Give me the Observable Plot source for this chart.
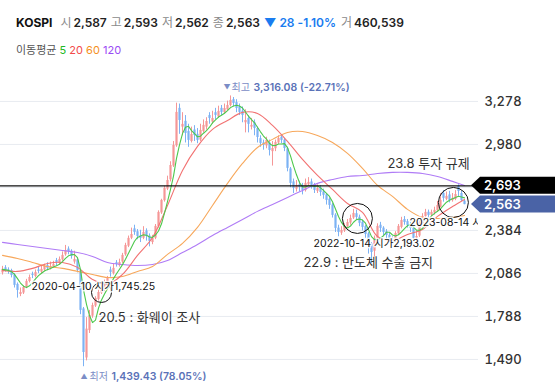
<!DOCTYPE html>
<html>
<head>
<meta charset="utf-8">
<script src="https://cdn.jsdelivr.net/npm/d3@7"></script>
<script src="https://cdn.jsdelivr.net/npm/@observablehq/plot@0.6"></script>
<style>
  html, body { margin: 0; padding: 0; background: #fff; }
  body { width: 555px; height: 389px; overflow: hidden; font-family: Inter, "Noto Sans CJK KR", sans-serif; }
  .hdr { position: relative; height: 62px; }
  .l1 { position: absolute; left: 16px; top: 15px; font-size: 12px; line-height: 16px; white-space: nowrap; color: #222; }
  .l1 .nm { font-weight: 700; margin-right: 8px; color: #111; }
  .l1 .k { color: #8a8a8a; margin-right: 2px; }
  .l1 b { font-weight: 600; margin-right: 4px; }
  .l1 .dn { color: #1a7cf0; font-weight: 600; margin-right: 5px; }
  .l2 { position: absolute; left: 16px; top: 42px; font-size: 11px; line-height: 16px; color: #555; white-space: nowrap; }
  #chart svg { display: block; }
</style>
</head>
<body>
<div class="hdr">
  <div class="l1" id="l1"></div>
  <div class="l2" id="l2"></div>
</div>
<div id="chart"></div>
<script>
// ---- weekly candles ----
const opens = [2090,2125,2110,2105,2075,2010,1940,1950,1990,2030,
2080,2065,2110,2095,2110,2140,2118,2130,2175,2155,
2180,2215,2255,2240,2165,2180,2105,1840,1500,1690,
1790,1860,1905,1950,1975,2000,2110,2085,2160,2140,
2165,2215,2275,2330,2395,2375,2345,2330,2380,2345,
2300,2330,2410,2505,2590,2670,2735,2830,2970,3230,
3100,3140,3070,3000,3080,3050,3010,3070,3100,3180,
3135,3200,3170,3230,3200,3220,3250,3290,3270,3240,
3210,3130,3160,3100,3130,3090,3020,2990,2970,2990,
2930,2950,2990,3030,3010,2950,2810,2720,2670,2700,
2690,2660,2700,2720,2700,2655,2680,2650,2630,2600,
2560,2490,2400,2365,2380,2410,2435,2470,2500,2475,
2440,2410,2360,2290,2240,2330,2420,2400,2375,2350,
2320,2310,2360,2405,2460,2445,2420,2400,2330,2345,
2430,2480,2510,2490,2505,2520,2545,2640,2600,2630,
2590,2600,2690,2640,2587];
const highs = [2135,2140,2125,2115,2085,2020,1985,2000,2045,2075,
2095,2110,2130,2140,2150,2160,2165,2170,2190,2200,
2235,2280,2270,2250,2240,2190,2110,1850,1780,1830,
1880,1925,1970,2000,2040,2065,2130,2150,2175,2185,
2225,2295,2345,2400,2420,2390,2385,2410,2395,2360,
2350,2425,2520,2600,2690,2760,2860,3000,3266,3260,
3200,3180,3120,3100,3110,3090,3120,3150,3165,3200,
3210,3230,3245,3250,3260,3280,3316.08,3305,3290,3260,
3240,3220,3180,3160,3150,3100,3040,3010,3030,3010,
3000,3010,3040,3045,3020,2960,2820,2740,2730,2725,
2710,2740,2750,2740,2710,2700,2695,2670,2640,2610,
2570,2500,2420,2410,2430,2460,2490,2530,2525,2490,
2455,2420,2370,2300,2345,2430,2440,2410,2390,2365,
2340,2375,2425,2475,2480,2460,2440,2410,2380,2450,
2500,2530,2525,2525,2545,2585,2640,2660,2650,2655,
2640,2660,2700,2655,2593];
const lows = [2075,2095,2080,2055,1985,1915,1925,1940,1980,2020,
2050,2055,2085,2085,2100,2105,2110,2120,2140,2145,
2170,2205,2215,2185,2150,2090,1800,1439.43,1480,1670,
1775,1850,1895,1940,1960,1990,2060,2075,2130,2130,
2155,2205,2265,2320,2350,2320,2300,2320,2310,2270,
2285,2320,2400,2495,2580,2660,2720,2820,2960,3050,
3040,2990,2960,2990,3000,2985,3000,3060,3080,3120,
3120,3150,3160,3180,3190,3210,3240,3240,3200,3180,
3130,3060,3060,3080,3040,2990,2960,2940,2950,2900,
2830,2930,2980,2985,2930,2790,2680,2640,2650,2650,
2630,2650,2690,2670,2640,2640,2620,2600,2560,2530,
2470,2370,2340,2350,2370,2400,2420,2460,2455,2410,
2380,2330,2220,2155,2200,2320,2370,2340,2320,2300,
2290,2300,2350,2395,2420,2400,2370,2310,2300,2335,
2420,2470,2470,2475,2490,2510,2540,2580,2590,2575,
2580,2590,2620,2585,2562];
const closes = [2114,2107,2100,2072,2003,1968,1954,1989,2031,2058,
2072,2093,2100,2114,2134,2121,2134,2148,2162,2183,
2211,2245,2238,2204,2183,2107,1830,1538,1700,1795,
1864,1913,1954,1982,2003,2051,2093,2121,2148,2162,
2211,2280,2329,2356,2370,2342,2329,2370,2342,2308,
2329,2412,2509,2592,2675,2730,2834,2973,3202,3146,
3119,3056,3008,3049,3042,3008,3077,3112,3139,3160,
3160,3181,3209,3202,3229,3250,3285,3264,3229,3202,
3181,3146,3119,3112,3091,3028,2987,2973,3008,2938,
2952,2994,3021,3008,2952,2814,2710,2675,2696,2682,
2661,2710,2717,2696,2661,2675,2647,2627,2592,2557,
2488,2398,2370,2384,2412,2439,2467,2502,2474,2433,
2405,2356,2280,2231,2329,2412,2398,2370,2349,2329,
2315,2363,2412,2453,2439,2419,2398,2329,2342,2439,
2481,2509,2488,2509,2523,2557,2592,2606,2620,2592,
2606,2633,2654,2591,2563];

// ---- moving averages 20 / 60 / 120 (at candle indices) ----
const maIdx = [0,5,10,15,20,25,30,35,40,45,50,55,60,65,70,75,80,85,90,95,100,105,110,115,120,125,130,135,140,145,150,154];
const ma20 = [2107,2100,2121,2155,2162,2128,2044,2010,2079,2211,2335,2557,2800,2966,3084,3146,3202,3195,3112,3001,2876,2765,2668,2571,2509,2342,2315,2356,2391,2481,2550,2599];
const ma60 = [2211,2190,2162,2134,2121,2100,2079,2058,2065,2100,2134,2218,2294,2405,2557,2710,2848,2959,3015,3063,3070,3042,2994,2918,2814,2696,2620,2530,2474,2467,2474,2488];
const ma120 = [2301,2287,2273,2259,2245,2231,2204,2162,2148,2141,2148,2176,2231,2287,2349,2405,2460,2516,2564,2613,2661,2710,2737,2758,2765,2779,2786,2786,2779,2758,2724,2696];

// ---- axis ticks & reference levels ----
const gridTicks = [1490,1788,2086,2384,2682,2980,3278];
const labelTicks = [1490,1788,2086,2384,2980,3278]; // 2,682 sits under the 2,693 tag
const refLine = 2693;
const lastPrice = 2563;

// ---- annotations ----
const noteText = ["2020-04-10 시가1,745.25","2022-10-14 시가2,193.02","2023-08-14 시가2,570.87"];
const noteX = [9.7,103.7,135.7];
const noteY = [1996,2294,2439];
const eventText = ["20.5 : 화웨이 조사","22.9 : 반도체 수출 금지","23.8 투자 규제"];
const eventX = [32,100.3,128.3];
const eventY = [1781,2162,2848];
const circleX = [33,118.3,150.3];
const circleY = [1954,2467,2578];
const circleR = [10,15,15];
const hiIdx = 76, hiVal = 3316.08, hiLabel = "최고", hiText = "3,316.08 (-22.71%)";
const loIdx = 27, loVal = 1439.43, loLabel = "최저", loText = "1,439.43 (78.05%)";

// header
const n = closes.length - 1;
const fmt = d3.format(",");
document.getElementById("l1").innerHTML =
  `<span class="nm">KOSPI</span><span class="k">시</span><b>${fmt(opens[n])}</b><span class="k">고</span><b>${fmt(highs[n])}</b><span class="k">저</span><b>${fmt(lows[n])}</b><span class="k">종</span><b>${fmt(closes[n])}</b><span class="dn">▼ 28 -1.10%</span><span class="k">거</span><b>460,539</b>`;
document.getElementById("l2").innerHTML =
  `이동평균 <span style="color:#22b822">5</span> <span style="color:#f24a4a">20</span> <span style="color:#f5901e">60</span> <span style="color:#9a4cf5">120</span>`;

const candles = closes.map((c, i) => ({i, o: opens[i], h: highs[i], l: lows[i], c, up: c >= opens[i]}));
const pink = "#f59797", blue = "#7cb2f4";
const col = d => d.up ? pink : blue;
const maData = arr => maIdx.map((i, k) => ({i, v: arr[k]}));
const notes = noteText.map((t, k) => ({t, x: noteX[k], y: noteY[k]}));
const events = eventText.map((t, k) => ({t, x: eventX[k], y: eventY[k]}));
const circles = circleX.map((x, k) => ({x, y: circleY[k], r: circleR[k]}));

function priceTag(value, fill) {
  return (index, scales, values, dims) => {
    const y = scales.y(value);
    const x0 = dims.width - dims.marginRight;
    const g = d3.create("svg:g");
    g.append("path")
      .attr("d", `M${x0 - 7},${y} L${x0 + 2},${y - 8.5} L${dims.width},${y - 8.5} L${dims.width},${y + 8.5} L${x0 + 2},${y + 8.5} Z`)
      .attr("fill", fill);
    g.append("text").attr("x", x0 + 6).attr("y", y).attr("dy", "0.36em")
      .attr("text-anchor", "start")
      .attr("fill", "white").attr("font-size", 13).attr("font-weight", 600)
      .text(fmt(value));
    return g.node();
  };
}

const mk = {fill: "#7b8dc6"};
const chart = Plot.plot({
  width: 555, height: 327,
  marginLeft: 0, marginRight: 77, marginTop: 18, marginBottom: 9,
  x: {domain: [-2/3, 158 + 2/3], axis: null},
  y: {domain: [1344, 3423], axis: null},
  r: {type: "identity"},
  style: {fontFamily: "Inter, 'Noto Sans CJK KR', sans-serif", background: "transparent", overflow: "visible"},
  marks: [
    Plot.gridY(gridTicks, {stroke: "#e8ebf0", strokeOpacity: 1}),
    Plot.axisY(labelTicks, {anchor: "right", tickSize: 0, tickPadding: 6, tickFormat: fmt, fontSize: 13, fill: "#333", fontWeight: 500}),
    Plot.ruleX(candles, {x: "i", y1: "l", y2: "h", stroke: col, strokeWidth: 1}),
    Plot.ruleX(candles, {x: "i", y1: "o", y2: "c", stroke: col, strokeWidth: 2.2}),
    Plot.line(maData(ma120), {x: "i", y: "v", curve: "catmull-rom", stroke: "#b07cf6", strokeWidth: 1.1}),
    Plot.line(maData(ma60), {x: "i", y: "v", curve: "catmull-rom", stroke: "#f7a85c", strokeWidth: 1.1}),
    Plot.line(maData(ma20), {x: "i", y: "v", curve: "catmull-rom", stroke: "#f27272", strokeWidth: 1.1}),
    Plot.lineY(candles, Plot.windowY({k: 5, anchor: "end", reduce: "mean"}, {x: "i", y: "c", stroke: "#4cc84c", strokeWidth: 1.1})),
    Plot.ruleY([refLine], {stroke: "#111", strokeWidth: 1.2}),
    Plot.dot(circles, {x: "x", y: "y", r: "r", stroke: "#111", strokeWidth: 1, fill: "none"}),
    Plot.text(notes, {x: "x", y: "y", text: "t", textAnchor: "start", fontSize: 10.5, fill: "#111", stroke: "white", strokeWidth: 3, strokeOpacity: 0.85, clip: true}),
    Plot.text(events, {x: "x", y: "y", text: "t", textAnchor: "start", fontSize: 13, fill: "#333"}),
    Plot.text([hiVal], {x: [hiIdx], y: d => d, text: ["▼"], textAnchor: "start", dx: -7, dy: -8, fontSize: 7, ...mk}),
    Plot.text([hiVal], {x: [hiIdx], y: d => d, text: [hiLabel], textAnchor: "start", dx: 1, dy: -8, fontSize: 10, ...mk}),
    Plot.text([hiVal], {x: [hiIdx], y: d => d, text: [hiText], textAnchor: "start", dx: 23, dy: -8, fontSize: 10.5, fontWeight: 600, fill: "#5a72b8"}),
    Plot.text([loVal], {x: [loIdx], y: d => d, text: ["▲"], textAnchor: "start", dx: -3, dy: 10, fontSize: 7, ...mk}),
    Plot.text([loVal], {x: [loIdx], y: d => d, text: [loLabel], textAnchor: "start", dx: 6, dy: 10, fontSize: 10, ...mk}),
    Plot.text([loVal], {x: [loIdx], y: d => d, text: [loText], textAnchor: "start", dx: 28, dy: 10, fontSize: 10.5, fontWeight: 600, fill: "#5a72b8"}),
    priceTag(refLine, "#000"),
    priceTag(lastPrice, "#4a63a6")
  ]
});
document.getElementById("chart").appendChild(chart);
</script>
</body>
</html>
